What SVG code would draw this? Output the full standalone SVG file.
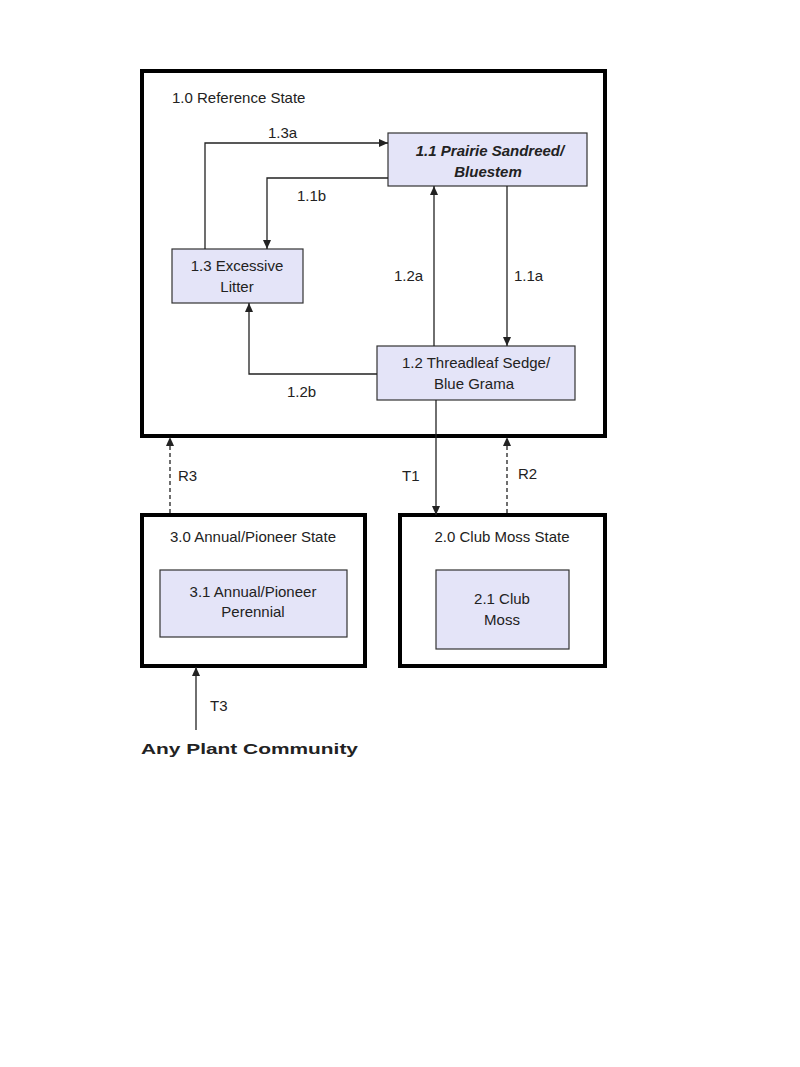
<svg xmlns="http://www.w3.org/2000/svg" width="800" height="1067" viewBox="0 0 800 1067">
<style>
text{font-family:"Liberation Sans",Arial,sans-serif;font-size:15px;fill:#222}
.st{fill:#fff;stroke:#000;stroke-width:4}
.cm{fill:#e4e4f8;stroke:#333;stroke-width:1.2}
.c{fill:none;stroke:#222;stroke-width:1.3}
.d{stroke-dasharray:4,3}
</style>
<defs><marker id="a" markerWidth="10" markerHeight="10" refX="9" refY="5" orient="auto" markerUnits="userSpaceOnUse"><path d="M0,1 L9,5 L0,9 z" fill="#222"/></marker></defs>
<rect width="800" height="1067" fill="#fff"/>
<g id="s1"><rect class="st" x="142" y="71" width="463" height="365"/><text x="172" y="103">1.0 Reference State</text></g>
<g id="s3"><rect class="st" x="142" y="515" width="223" height="151"/><text x="253" y="542" text-anchor="middle">3.0 Annual/Pioneer State</text></g>
<g id="s2"><rect class="st" x="400" y="515" width="205" height="151"/><text x="502" y="542" text-anchor="middle">2.0 Club Moss State</text></g>
<g id="n11"><rect class="cm" x="388" y="133" width="199" height="53"/><text x="490" y="156" text-anchor="middle" font-weight="bold" font-style="italic">1.1 Prairie Sandreed/</text><text x="488" y="177" text-anchor="middle" font-weight="bold" font-style="italic">Bluestem</text></g>
<g id="n13"><rect class="cm" x="172" y="249" width="131" height="54"/><text x="237" y="271" text-anchor="middle">1.3 Excessive</text><text x="237" y="292" text-anchor="middle">Litter</text></g>
<g id="n12"><rect class="cm" x="377" y="346" width="198" height="54"/><text x="476" y="368" text-anchor="middle">1.2 Threadleaf Sedge/</text><text x="474" y="389" text-anchor="middle">Blue Grama</text></g>
<g id="n31"><rect class="cm" x="160" y="570" width="187" height="67"/><text x="253" y="597" text-anchor="middle">3.1 Annual/Pioneer</text><text x="253" y="617" text-anchor="middle">Perennial</text></g>
<g id="n21"><rect class="cm" x="436" y="570" width="133" height="79"/><text x="502" y="604" text-anchor="middle">2.1 Club</text><text x="502" y="625" text-anchor="middle">Moss</text></g>
<g id="any"><text x="141" y="754" font-weight="bold" font-size="20" fill="#000" textLength="217" lengthAdjust="spacingAndGlyphs">Any Plant Community</text></g>
<g id="connectors">
<path class="c" d="M205,249 V143 H388" marker-end="url(#a)"/>
<path class="c" d="M388,178 H267 V249" marker-end="url(#a)"/>
<path class="c" d="M434,346 V186" marker-end="url(#a)"/>
<path class="c" d="M507,186 V346" marker-end="url(#a)"/>
<path class="c" d="M377,374 H249 V303" marker-end="url(#a)"/>
<path class="c" d="M436,400 V515" marker-end="url(#a)"/>
<path class="c d" d="M170,513 V437" marker-end="url(#a)"/>
<path class="c d" d="M507,513 V437" marker-end="url(#a)"/>
<path class="c" d="M196,730 V667" marker-end="url(#a)"/>
<text x="268" y="138">1.3a</text><text x="297" y="201">1.1b</text><text x="394" y="281">1.2a</text><text x="514" y="281">1.1a</text><text x="287" y="397">1.2b</text>
<text x="178" y="481">R3</text><text x="402" y="481">T1</text><text x="518" y="479">R2</text><text x="210" y="711">T3</text>
</g>
</svg>
